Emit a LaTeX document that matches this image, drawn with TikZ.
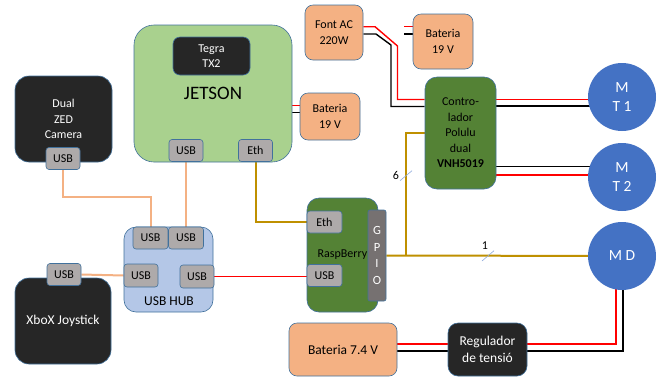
\documentclass[tikz,border=0pt]{standalone}
\usepackage{fontspec}
\setmainfont{Carlito}
\usepackage{tikz}
\usetikzlibrary{backgrounds}

\definecolor{edge}{HTML}{41719C}
\definecolor{jetgreen}{HTML}{A9D18E}
\definecolor{peach}{HTML}{F4B183}
\definecolor{darkbox}{HTML}{262626}
\definecolor{ctrlgreen}{HTML}{548235}
\definecolor{motorblue}{HTML}{4472C4}
\definecolor{hubblue}{HTML}{B4C7E7}
\definecolor{portgray}{HTML}{AEAAAA}
\definecolor{gpiogray}{HTML}{767171}
\definecolor{usbwire}{HTML}{F4B183}
\definecolor{gold}{HTML}{BF9000}
\definecolor{tickblue}{HTML}{8FAADC}

\begin{document}
\begin{tikzpicture}[x=1pt, y=-1pt, font=\fontsize{12}{15.5}\selectfont,
  blk/.style={draw=edge, line width=0.6pt, align=center, inner sep=0pt},
  port/.style={blk, fill=portgray, rounded corners=3pt, minimum width=34pt, minimum height=22pt},
  dark/.style={blk, fill=darkbox, text=white},
  batt/.style={blk, fill=peach, rounded corners=8pt},
  bigtxt/.style={font=\fontsize{13.5}{16.5}\selectfont},
  motor/.style={circle, fill=motorblue, text=white, minimum size=68pt, inner sep=0pt, align=center,
    font=\fontsize{15.5}{19.5}\selectfont},
  vplus/.style={red, line width=1.4pt},
  vminus/.style={black, line width=1.4pt},
  usbw/.style={usbwire, line width=2pt},
  sigw/.style={gold, line width=2pt},
  slash/.style={tickblue, line width=0.6pt}]
  % pixel grid of the reference: x to the right, y downwards
  \useasboundingbox (0,0) rectangle (659,376);

  % --- computer side
  \node[blk, fill=jetgreen, rounded corners=20pt, minimum width=158pt, minimum height=137pt,
    font=\fontsize{19}{22}\selectfont] (jetson) at (213,93.5) {JETSON};
  \node[dark, rounded corners=7pt, minimum width=77pt, minimum height=38pt] (tegra) at (211.5,56) {Tegra\\TX2};
  \node[port] (jusb) at (186,150.5) {USB};
  \node[port] (jeth) at (255.5,150.5) {Eth};
  \node[batt, minimum width=60pt, minimum height=47pt] (batj) at (330,116.5) {Bateria\\19 V};

  \node[dark, rounded corners=14pt, minimum width=97pt, minimum height=86pt] (zed) at (63.5,119) {Dual\\ZED\\Camera};
  \node[port] (zusb) at (63,158.5) {USB};
  \node[dark, bigtxt, rounded corners=14pt, minimum width=96pt, minimum height=86pt] (joy) at (63,321) {XboX Joystick};
  \node[port] (xusb) at (64,274.5) {USB};

  % --- usb hub
  \node[blk, fill=hubblue, rounded corners=12pt, minimum width=89pt, minimum height=85pt] (hub) at (168.5,269.5) {};
  \node[bigtxt] (hubtxt) at (169,301) {USB HUB};
  \node[port, minimum width=35pt] (hubtl) at (150.5,238) {USB};
  \node[port, minimum width=35pt] (hubtr) at (186,238) {USB};
  \node[port, minimum height=23pt] (hubml) at (141,275.5) {USB};
  \node[port, minimum height=23pt] (hubmr) at (197,276.5) {USB};

  % --- raspberry
  \node[blk, fill=ctrlgreen, rounded corners=12pt, minimum width=71pt, minimum height=114pt] (rasp) at (342.5,255) {RaspBerry};
  \node[port, minimum width=35pt] (reth) at (324.5,222) {Eth};
  \node[port, minimum width=35pt] (rusb) at (324.5,275.5) {USB};
  \node[blk, fill=gpiogray, text=white, rounded corners=2pt, minimum width=18pt, minimum height=91pt,
    font=\fontsize{12.5}{16.5}\selectfont] (gpio) at (377,255.5) {G\\P\\I\\O};

  % --- power and motors
  \node[batt, minimum width=58pt, minimum height=55pt] (fontac) at (334,32.5) {Font AC\\220W};
  \node[batt, minimum width=60pt, minimum height=55pt] (batm) at (443,41.5) {Bateria\\19 V};
  \node[blk, fill=ctrlgreen, rounded corners=12pt, minimum width=71pt, minimum height=112pt] (ctrl) at (460.5,133)
    {Contro-\\lador\\Polulu\\dual\\\textbf{VNH5019}};
  \node[motor] (mt1) at (622,97) {M\\T 1};
  \node[motor] (mt2) at (622,177) {M\\T 2};
  \node[motor] (md) at (622,256) {M D};
  \node[batt, bigtxt, minimum width=108pt, minimum height=53pt] (bats) at (343,349.5) {Bateria 7.4 V};
  \node[dark, bigtxt, rounded corners=10pt, minimum width=79pt, minimum height=53pt] (reg) at (487.5,349.5) {Regulador\\de tensió};

  \coordinate (tap) at (gpio.east -| 405.5,0);
  \node (n6) at (396,175) {6};
  \node (n1) at (485,246) {1};

  \begin{scope}[on background layer]
    % usb links
    \draw[usbw] (zusb.south) |- (hubtl.north |- 0,197) -- (hubtl.north);
    \draw[usbw] (jusb.south) -- (hubtr.north);
    \draw[usbw] (xusb.east) -- (hubml.west);
    \draw[vplus, line width=1.6pt] (hubmr.east) -- (rusb.west |- hubmr.east);
    % ethernet and gpio
    \draw[sigw] (jeth.south) |- (reth.west);
    \draw[sigw] (gpio.east) -- (md.center);
    \draw[sigw] (tap) |- (ctrl.west);
    \draw[slash] (400,180.7) -- (412,170.7);
    \draw[slash] (482,261) -- (494,250.7);
    % power lines
    \draw[vplus] (jetson.east |- 0,105.7) -- (batj.west |- 0,105.7);
    \draw[vminus] (jetson.east |- 0,112.7) -- (batj.west |- 0,112.7);
    \draw[vplus] (fontac.east |- 0,26.7) -- (375,26.7) -- (397.5,46) -- (397.5,99.5) -- (ctrl.west |- 0,99.5);
    \draw[vminus] (fontac.east |- 0,34) -- (376,34) -- (391,45) -- (391,106.5) -- (ctrl.west |- 0,106.5);
    \draw[vplus] (batm.west |- 0,26.7) -- ++(-9,0);
    \draw[vminus] (batm.west |- 0,34) -- ++(-9,0);
    \draw[vplus] (ctrl.east |- 0,99.3) -- (mt1.center |- 0,99.3);
    \draw[vminus] (ctrl.east |- 0,106) -- (mt1.center |- 0,106);
    \draw[vminus] (ctrl.east |- 0,166.7) -- (mt2.center |- 0,166.7);
    \draw[vplus] (ctrl.east |- 0,175) -- (mt2.center |- 0,175);
    \draw[vplus] (bats.east |- 0,344) -- (reg.west |- 0,344);
    \draw[vminus] (bats.east |- 0,351) -- (reg.west |- 0,351);
    \draw[vplus] ([xshift=-6pt]md.center) |- (reg.east |- 0,344);
    \draw[vminus] ([xshift=1pt]md.center) |- (reg.east |- 0,351);
  \end{scope}
\end{tikzpicture}
\end{document}
